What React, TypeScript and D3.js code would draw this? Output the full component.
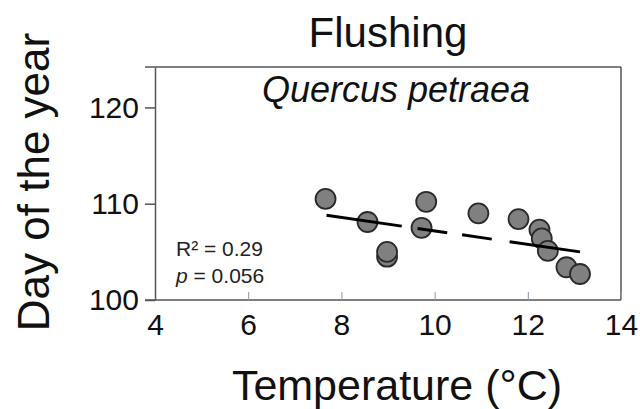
import React, { useEffect, useRef } from "react";
import * as d3 from "d3";

const temps = [7.66, 8.56, 8.98, 8.98, 9.82, 9.72, 10.94, 11.8, 12.25, 12.3, 12.43, 12.83, 13.12];
const days = [110.5, 108.1, 104.5, 105.0, 110.2, 107.5, 109.0, 108.4, 107.3, 106.4, 105.1, 103.4, 102.7];
const trendX = [7.68, 13.12];
const trendY = [108.8, 105.0];
const xTicks = [4, 6, 8, 10, 12, 14];
const yTicks = [100, 110, 120];

const W = 640;
const H = 409;

export default function App() {
  const svgRef = useRef<SVGSVGElement | null>(null);

  useEffect(() => {
    const margin = { top: 67, right: 19, bottom: 109, left: 155 };
    const innerWidth = W - margin.left - margin.right;
    const innerHeight = H - margin.top - margin.bottom;
    const font = "Liberation Sans, Arial, sans-serif";

    d3.select(svgRef.current).selectAll("*").remove();
    const svg = d3.select(svgRef.current).attr("width", W).attr("height", H);
    const g = svg.append("g").attr("transform", `translate(${margin.left},${margin.top})`);

    const x = d3.scaleLinear().domain([4, 14]).range([0, innerWidth]);
    const y = d3.scaleLinear().domain([100, 124.2]).range([innerHeight, 0]);

    const axisColor = "#555";

    // frame (top + right), extends left like a tick at the top corner
    g.append("line")
      .attr("x1", -10).attr("x2", innerWidth)
      .attr("y1", 0).attr("y2", 0)
      .attr("stroke", axisColor).attr("stroke-width", 1.5);
    g.append("line")
      .attr("x1", innerWidth).attr("x2", innerWidth)
      .attr("y1", 0).attr("y2", innerHeight)
      .attr("stroke", axisColor).attr("stroke-width", 1.5);

    // x axis: ticks point inward
    const xa = g.append("g")
      .attr("transform", `translate(0,${innerHeight})`)
      .call(d3.axisBottom(x).tickValues(xTicks).tickSizeInner(-8).tickSizeOuter(0).tickPadding(14));
    xa.select(".domain").attr("stroke", axisColor).attr("stroke-width", 1.5)
      .attr("d", `M-10,0H${innerWidth}`);
    xa.selectAll(".tick line").attr("stroke", "#8a9aa8").attr("stroke-width", 1);
    xa.selectAll(".tick text")
      .attr("font-family", font).attr("font-size", 30).attr("fill", "#111");

    // y axis: ticks point outward
    const ya = g.append("g")
      .call(d3.axisLeft(y).tickValues(yTicks).tickSizeInner(10).tickSizeOuter(0).tickPadding(6));
    ya.select(".domain").attr("stroke", axisColor).attr("stroke-width", 1.5);
    ya.selectAll(".tick line").attr("stroke", axisColor).attr("stroke-width", 1.5);
    ya.selectAll(".tick text")
      .attr("font-family", font).attr("font-size", 30).attr("fill", "#111");

    // points
    g.selectAll("circle.pt")
      .data(temps.map((t, i) => ({ t, d: days[i] })))
      .enter()
      .append("circle")
      .attr("class", "pt")
      .attr("cx", (d) => x(d.t))
      .attr("cy", (d) => y(d.d))
      .attr("r", 10)
      .attr("fill", "#808080")
      .attr("stroke", "#2a2a2a")
      .attr("stroke-width", 1.8);

    // dashed trend line
    const line = d3.line<number>()
      .x((d) => x(d))
      .y((_, i) => y(trendY[i]));
    g.append("path")
      .datum(trendX)
      .attr("d", line)
      .attr("fill", "none")
      .attr("stroke", "#000")
      .attr("stroke-width", 3)
      .attr("stroke-dasharray", "76,16,30,15,30,18,74");

    // titles
    svg.append("text")
      .attr("x", 388).attr("y", 47)
      .attr("text-anchor", "middle")
      .attr("font-family", font).attr("font-size", 42).attr("fill", "#111")
      .text("Flushing");

    g.append("text")
      .attr("x", 396 - margin.left).attr("y", 35)
      .attr("text-anchor", "middle")
      .attr("font-family", font).attr("font-style", "italic")
      .attr("font-size", 36).attr("fill", "#111")
      .text("Quercus petraea");

    svg.append("text")
      .attr("x", 397).attr("y", 400)
      .attr("text-anchor", "middle")
      .attr("font-family", font).attr("font-size", 43).attr("fill", "#111")
      .text("Temperature (°C)");

    svg.append("text")
      .attr("transform", `translate(49,${182}) rotate(-90)`)
      .attr("text-anchor", "middle")
      .attr("font-family", font).attr("font-size", 44).attr("fill", "#111")
      .text("Day of the year");

    // stats
    const stats = g.append("g").attr("font-family", font).attr("font-size", 21).attr("fill", "#222");
    stats.append("text").attr("x", 21).attr("y", 189).text("R² = 0.29");
    const p = stats.append("text").attr("x", 21).attr("y", 216);
    p.append("tspan").attr("font-style", "italic").text("p");
    p.append("tspan").text(" = 0.056");
  }, []);

  return (
    <svg
      ref={svgRef}
      style={{ position: "absolute", left: 0, top: 0, background: "#fff" }}
    ></svg>
  );
}
